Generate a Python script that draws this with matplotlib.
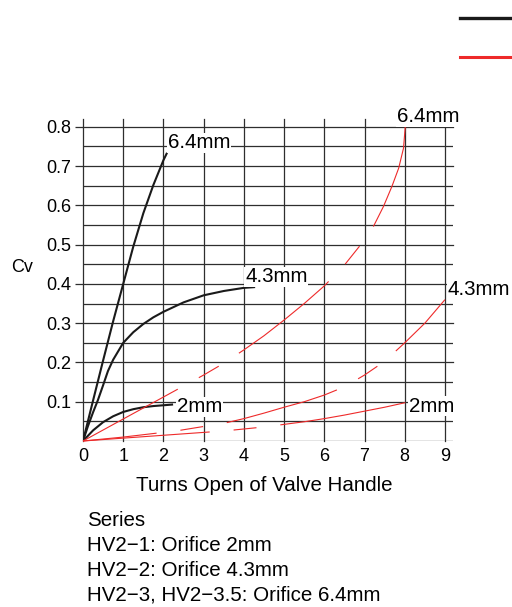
"""
Cv vs. turns-open curves for the HV2 hand valve series.

Black = opening-side curves, red = the long-dash curves, one per orifice
(2mm, 4.3mm, 6.4mm). Values are read off the published chart.
"""

import matplotlib
matplotlib.use("Agg")
import matplotlib.pyplot as plt
from matplotlib.lines import Line2D

plt.rcParams["font.family"] = ["Liberation Sans", "DejaVu Sans"]
plt.rcParams["lines.scale_dashes"] = False

# --- black curves -----------------------------------------------------------
black_64_x = [0, 0.25, 0.5, 0.75, 1.0, 1.25, 1.5, 1.75, 2.0, 2.09]
black_64_y = [0, 0.103, 0.205, 0.305, 0.40, 0.495, 0.58, 0.652, 0.715, 0.734]

black_43_x = [0, 0.12, 0.25, 0.37, 0.5, 0.62, 0.75, 1.0, 1.25, 1.5, 1.75,
              2.0, 2.5, 3.0, 3.5, 4.0, 4.28]
black_43_y = [0, 0.037, 0.073, 0.104, 0.142, 0.178, 0.207, 0.25, 0.277, 0.298,
              0.315, 0.329, 0.353, 0.371, 0.382, 0.39, 0.392]

black_2_x = [0, 0.25, 0.5, 0.75, 1.0, 1.25, 1.5, 1.75, 2.0, 2.24]
black_2_y = [0, 0.027, 0.048, 0.063, 0.074, 0.081, 0.086, 0.089, 0.091, 0.093]

# --- red curves --------------------------------------------------------------
red_64_x = [0, 1, 2, 2.5, 3, 3.5, 4, 4.5, 5, 5.5, 6, 6.5, 7, 7.2, 7.47,
            7.68, 7.85, 7.97, 8.02]
red_64_y = [0, 0.056, 0.112, 0.14, 0.168, 0.198, 0.232, 0.268, 0.308, 0.35,
            0.395, 0.448, 0.512, 0.542, 0.597, 0.648, 0.695, 0.746, 0.81]

red_43_x = [0, 1, 1.83, 2.4, 3, 3.5, 4, 4.5, 5, 5.5, 6, 6.5, 7, 7.5, 8, 8.5, 9]
red_43_y = [0, 0.01, 0.02, 0.027, 0.037, 0.045, 0.057, 0.071, 0.086, 0.10,
            0.117, 0.138, 0.168, 0.203, 0.25, 0.30, 0.36]

red_2_x = [0, 3.15, 3.75, 4.33, 4.9, 5.5, 6, 6.5, 7, 7.5, 8.03]
red_2_y = [0, 0.023, 0.028, 0.034, 0.041, 0.049, 0.057, 0.066, 0.076, 0.086,
           0.098]

x_ticks = list(range(10))
y_major = [0.1, 0.2, 0.3, 0.4, 0.5, 0.6, 0.7, 0.8]
y_minor = [0, 0.05, 0.15, 0.25, 0.35, 0.45, 0.55, 0.65, 0.75]
y_labels = ["0.1", "0.2", "0.3", "0.4", "0.5", "0.6", "0.7", "0.8"]

series_notes = [
    "Series",
    "HV2\u22121: Orifice 2mm",
    "HV2\u22122: Orifice 4.3mm",
    "HV2\u22123, HV2\u22123.5: Orifice 6.4mm",
]

PX = 0.72  # points per pixel at dpi 100
RED = "#ee2a2a"
GRID = "#2e2e2e"


def dashes(long_px, first_px):
    """long dash / gap / short dash / gap, with the first dash cut to first_px."""
    pat = (long_px * PX, 24 * PX, 23 * PX, 24 * PX)
    return (long_px - first_px) * PX, pat


def main():
    fig = plt.figure(figsize=(5.12, 6.07), dpi=100)
    ax = fig.add_axes([83 / 512, 1 - 441 / 607, 370 / 512, 322 / 607])
    ax.set_xlim(0, 9.2)
    ax.set_ylim(0, 0.82)

    for s in ax.spines.values():
        s.set_visible(False)

    ax.set_xticks(x_ticks)
    ax.set_xticklabels([str(t) for t in x_ticks])
    ax.set_yticks(y_major)
    ax.set_yticklabels(y_labels)
    ax.set_yticks(y_minor, minor=True)
    ax.tick_params(axis="x", length=0, pad=5, labelsize=13)
    ax.tick_params(axis="y", which="major", length=5.8, width=0.9,
                   color=GRID, pad=2.8, labelsize=13)
    ax.tick_params(axis="y", which="minor", length=0)
    ax.grid(True, axis="x", color=GRID, lw=0.9)
    ax.grid(True, axis="y", which="both", color=GRID, lw=0.9)
    for gl in ax.get_xgridlines() + ax.get_ygridlines():
        gl.set_clip_on(False)
    ax.set_axisbelow(True)

    # black curves
    for xs, ys in [(black_64_x, black_64_y), (black_43_x, black_43_y),
                   (black_2_x, black_2_y)]:
        ax.plot(xs, ys, color="#1a1a1a", lw=1.5, solid_capstyle="butt",
                solid_joinstyle="round")

    # red long-dash curves
    red_sets = [(red_64_x, red_64_y, dashes(115, 108)),
                (red_43_x, red_43_y, dashes(115, 74)),
                (red_2_x, red_2_y, dashes(127, 127))]
    for xs, ys, ls in red_sets:
        ax.plot(xs, ys, color=RED, lw=0.8, linestyle=ls, clip_on=False)

    box = dict(facecolor="white", edgecolor="none", pad=0.6)
    tag = dict(fontsize=14.8, ha="left", va="center", bbox=box, zorder=3)
    ax.text(black_64_x[-1] + 0.02, 0.759, "6.4mm", **tag)
    ax.text(black_43_x[-1] - 0.25, 0.418, "4.3mm", **tag)
    ax.text(black_2_x[-1] + 0.09, 0.087, "2mm", **tag)
    ax.text(red_64_x[-1] - 0.21, 0.826, "6.4mm", **tag)
    ax.text(red_43_x[-1] + 0.06, 0.385, "4.3mm", **tag)
    ax.text(red_2_x[-1] + 0.07, 0.089, "2mm", **tag)

    ax.set_xlabel("Turns Open of Valve Handle", fontsize=14.8)
    ax.xaxis.set_label_coords(0.489, -0.137)
    ax.xaxis.label.set_va("center")
    ax.set_ylabel("Cv", fontsize=13, rotation=0, ha="center", va="center")
    ax.yaxis.set_label_coords(-0.165, 0.540)

    # legend remnant in the top right corner (labels sit off the canvas)
    handles = [Line2D([], [], color="#1a1a1a", lw=2.4),
               Line2D([], [], color=RED, lw=2.2)]
    fig.legend(handles, ["", ""], loc="upper left",
               bbox_to_anchor=(460 / 512, 1 - 12 / 607), frameon=False,
               fontsize=10, handlelength=5, handleheight=1.0,
               labelspacing=1.85, borderpad=0, borderaxespad=0,
               handletextpad=0.2)

    for i, line in enumerate(series_notes):
        fig.text(87 / 512, 1 - (521 + 24.6 * i) / 607, line,
                 fontsize=14.8, ha="left", va="center")

    fig.savefig("out.png", dpi=100)


if __name__ == "__main__":
    main()
